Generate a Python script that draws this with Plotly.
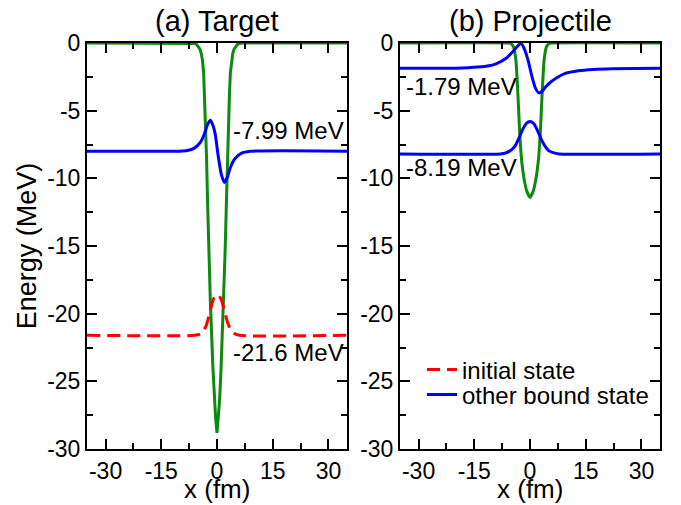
import plotly.graph_objects as go

# ---------------- tick labels ----------------
x_ticks = [-30, -15, 0, 15, 30]
x_tick_labels = ["-30", "-15", "0", "15", "30"]
x_minor = [-22.5, -7.5, 7.5, 22.5]
y_ticks = [0, -5, -10, -15, -20, -25, -30]
y_tick_labels = ["0", "-5", "-10", "-15", "-20", "-25", "-30"]
y_minor = [-2.5, -7.5, -12.5, -17.5, -22.5, -27.5]

# ---------------- (a) Target ----------------
target_pot_x = [-35, -7, -6, -5.5, -5, -4.6, -4.25, -3.9, -3.6, -3.35, -3.1, -2.8, -2.55, -2.2, -1.8,
                -1.1, -0.7, -0.35, 0, 0.35, 0.7, 1.1, 1.8, 2.2, 2.55, 2.8, 3.1, 3.35, 3.6, 3.9,
                4.25, 4.6, 5, 5.5, 6, 7, 35]
target_pot_y = [0, 0, -0.03, -0.1, -0.27, -0.45, -0.76, -1.3, -2.2, -3.8, -5.9, -8.6, -11.6, -15.3, -19.0,
                -24.0, -26.4, -27.8, -28.8, -27.8, -26.4, -24.0, -19.0, -15.3, -11.6, -8.6, -5.9, -3.8, -2.2, -1.3,
                -0.76, -0.45, -0.27, -0.1, -0.03, 0, 0]

target_bound_x = [-35, -10, -8, -6, -4.5, -3.5, -2.5, -1.8, -1.2, -0.5, 0.3, 1.2, 2.0, 2.8, 3.6, 4.8, 6.5, 9, 35]
target_bound_y = [-7.99, -7.99, -7.95, -7.75, -7.35, -6.8, -6.0, -5.7, -6.0, -6.7, -8.3, -9.75, -10.3, -9.9,
                  -9.2, -8.55, -8.15, -8.0, -7.99]

target_init_x = [-35, -6, -4.5, -3.5, -2.8, -2, -1.4, -0.7, 0.3, 1.2, 2.1, 2.8, 3.6, 4.5, 6, 35]
target_init_y = [-21.6, -21.6, -21.5, -21.2, -20.8, -20.0, -19.3, -18.8, -18.6, -19.0, -19.9, -20.6, -21.15,
                 -21.45, -21.6, -21.6]

# ---------------- (b) Projectile ----------------
proj_pot_x = [-35, -6, -5.1, -4.4, -3.8, -3.5, -3.1, -2.8, -2.35, -1.9, -1.35, -0.8, 0, 0.8, 1.35, 1.9, 2.35,
              2.8, 3.1, 3.5, 3.8, 4.4, 5.1, 6, 35]
proj_pot_y = [0, 0, -0.05, -0.3, -1.26, -2.5, -4.7, -6.5, -8.4, -9.5, -10.4, -11.0, -11.4, -11.0, -10.4, -9.5,
              -8.4, -6.5, -4.7, -2.5, -1.26, -0.3, -0.05, 0, 0]

proj_bound1_x = [-35, -20, -14, -11, -9, -6.5, -4.7, -3.3, -2.4, -1.5, -0.5, 0.5, 1.5, 2.5, 3.3, 4.3, 5.5, 7,
                 9.5, 13, 17, 22, 35]
proj_bound1_y = [-1.87, -1.86, -1.78, -1.68, -1.52, -1.15, -0.66, -0.22, -0.02, -0.45, -1.3, -2.45, -3.35, -3.7,
                 -3.55, -3.22, -2.9, -2.6, -2.25, -2.05, -1.95, -1.9, -1.87]

proj_bound2_x = [-35, -8, -6.5, -5, -4, -3, -2, -1, 0, 1, 2, 3, 4, 5, 6.5, 8, 35]
proj_bound2_y = [-8.2, -8.2, -8.12, -7.9, -7.6, -7.05, -6.4, -5.95, -5.8, -5.95, -6.45, -7.1, -7.6, -7.95,
                 -8.12, -8.2, -8.2]

GREEN = "#0b8a0b"
BLUE = "#0000ff"
RED = "#ff0000"

fig = go.Figure()

# left panel
fig.add_trace(go.Scatter(x=target_pot_x, y=target_pot_y, mode="lines", line=dict(color=GREEN, width=3),
                         showlegend=False, xaxis="x", yaxis="y"))
fig.add_trace(go.Scatter(x=target_bound_x, y=target_bound_y, mode="lines", line=dict(color=BLUE, width=3, shape="spline", smoothing=0.6),
                         name="other bound state", legend="legend2", showlegend=True, xaxis="x", yaxis="y"))
fig.add_trace(go.Scatter(x=target_init_x, y=target_init_y, mode="lines",
                         line=dict(color=RED, width=3, dash="13px,7px", shape="spline", smoothing=0.6),
                         name="initial state", legend="legend", showlegend=True, xaxis="x", yaxis="y"))

# right panel
fig.add_trace(go.Scatter(x=proj_pot_x, y=proj_pot_y, mode="lines", line=dict(color=GREEN, width=3, shape="spline", smoothing=0.4),
                         showlegend=False, xaxis="x2", yaxis="y2"))
fig.add_trace(go.Scatter(x=proj_bound1_x, y=proj_bound1_y, mode="lines", line=dict(color=BLUE, width=3, shape="spline", smoothing=0.6),
                         showlegend=False, xaxis="x2", yaxis="y2"))
fig.add_trace(go.Scatter(x=proj_bound2_x, y=proj_bound2_y, mode="lines", line=dict(color=BLUE, width=3, shape="spline", smoothing=0.6),
                         showlegend=False, xaxis="x2", yaxis="y2"))

W, H = 681, 505
ML = 87
MT = 43
MR = W - 660
MB = H - 449
pw = W - ML - MR
ph = H - MT - MB


def px_x(p):
    return (p - ML) / pw


def px_y(p):
    return (H - MB - p) / ph


tickfont = dict(size=23, color="black")
common_x = dict(range=[-35, 35], tickmode="array", tickvals=x_ticks, ticktext=x_tick_labels,
                ticks="inside", ticklen=10, tickwidth=1.5, tickcolor="black", showline=True, linecolor="black",
                linewidth=2, mirror="allticks", showgrid=False, zeroline=False, tickfont=tickfont,
                automargin=True,
                minor=dict(tickvals=x_minor, ticks="inside", ticklen=6, tickwidth=1.5, tickcolor="black", showgrid=False))
common_y = dict(range=[-30, 0], tickmode="array", tickvals=y_ticks, ticktext=y_tick_labels,
                ticks="inside", ticklen=10, tickwidth=1.5, tickcolor="black", showline=True, linecolor="black",
                linewidth=2, mirror="allticks", showgrid=False, zeroline=False, tickfont=tickfont,
                automargin=True,
                minor=dict(tickvals=y_minor, ticks="inside", ticklen=6, tickwidth=1.5, tickcolor="black", showgrid=False))

fig.update_layout(
    width=W, height=H,
    margin=dict(l=ML, r=MR, t=MT, b=MB, autoexpand=False),
    paper_bgcolor="white", plot_bgcolor="white",
    font=dict(family="Liberation Sans, Arial, sans-serif", color="black"),
    xaxis=dict(domain=[0, px_x(347)], anchor="y", **common_x),
    yaxis=dict(domain=[0, 1], anchor="x", title=dict(text="Energy (MeV)", font=dict(size=27, color="black"), standoff=3), **common_y),
    xaxis2=dict(domain=[px_x(400), 1], anchor="y2", **common_x),
    yaxis2=dict(domain=[0, 1], anchor="x2", **common_y),
    legend=dict(x=px_x(422), y=px_y(370), xanchor="left", yanchor="middle", bgcolor="rgba(0,0,0,0)",
                font=dict(size=24, color="black"), borderwidth=0),
    legend2=dict(x=px_x(422), y=px_y(395), xanchor="left", yanchor="middle", bgcolor="rgba(0,0,0,0)",
                 font=dict(size=24, color="black"), borderwidth=0),
    annotations=[
        dict(text="(a) Target", x=px_x(217), y=px_y(21), xref="paper", yref="paper", showarrow=False,
             xanchor="center", yanchor="middle", font=dict(size=29)),
        dict(text="(b) Projectile", x=px_x(530), y=px_y(21), xref="paper", yref="paper", showarrow=False,
             xanchor="center", yanchor="middle", font=dict(size=29)),
        dict(text="x (fm)", x=px_x(217), y=px_y(505), xref="paper", yref="paper", showarrow=False,
             xanchor="center", yanchor="bottom", font=dict(size=26), borderpad=0),
        dict(text="x (fm)", x=px_x(530), y=px_y(505), xref="paper", yref="paper", showarrow=False,
             xanchor="center", yanchor="bottom", font=dict(size=26), borderpad=0),
        dict(text="-7.99 MeV", x=34.8, y=-6.5, xref="x", yref="y", showarrow=False,
             xanchor="right", yanchor="middle", font=dict(size=24)),
        dict(text="-21.6 MeV", x=34.8, y=-22.9, xref="x", yref="y", showarrow=False,
             xanchor="right", yanchor="middle", font=dict(size=24)),
        dict(text="-1.79 MeV", x=-33.9, y=-3.2, xref="x2", yref="y2", showarrow=False,
             xanchor="left", yanchor="middle", font=dict(size=24)),
        dict(text="-8.19 MeV", x=-33.9, y=-9.2, xref="x2", yref="y2", showarrow=False,
             xanchor="left", yanchor="middle", font=dict(size=24)),
    ],
)

# remove the browser's default 8px body margin so the 681x505 figure fills the window
fig.write_html("out.html", config={"displayModeBar": False},
               post_script="document.body.style.margin='0';document.body.style.overflow='hidden';")
